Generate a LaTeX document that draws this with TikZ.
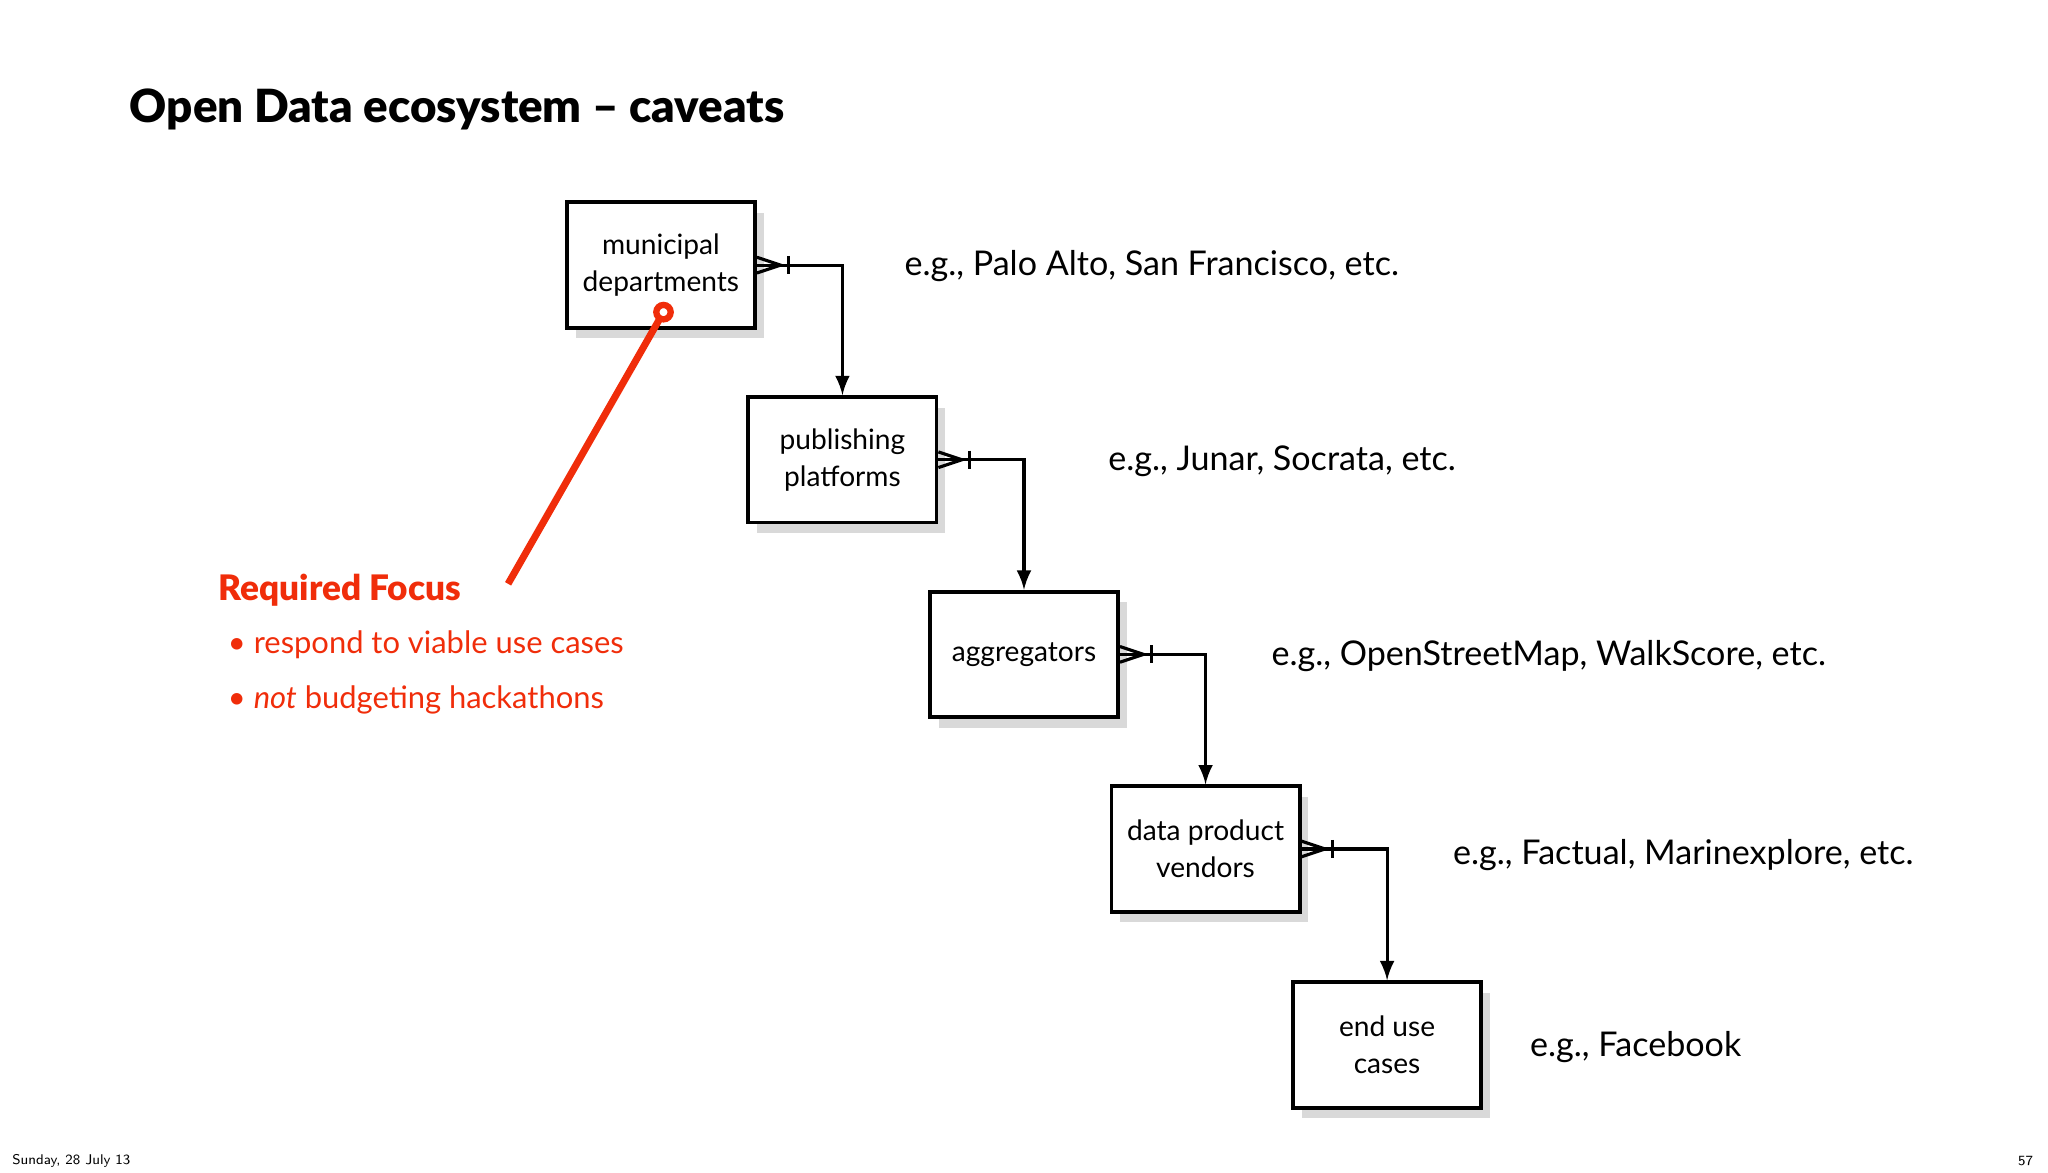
\documentclass[tikz,border=0pt]{standalone}
\usepackage{fontspec}
\setmainfont{Lato}
\newfontfamily\blackfont{Lato Black}
\usetikzlibrary{shadows}
\definecolor{rf}{RGB}{240,45,10}
\begin{document}
\begin{tikzpicture}[x=0.013061cm,y=-0.013061cm,
  ent/.style={draw,line width=1.1pt,fill=white,minimum width=144*0.013061cm,minimum height=96*0.013061cm,align=center,font=\fontsize{8}{10.5}\selectfont,drop shadow={shadow xshift=2.5pt,shadow yshift=-3pt,opacity=0.3}},
  eg/.style={anchor=west,font=\fontsize{9.7}{12}\selectfont},
  conn/.style={line width=0.9pt,-latex}]
\useasboundingbox (0,0) rectangle (1568,898);
\node[anchor=west,font=\fontsize{13}{15}\selectfont\blackfont] (t) at (90,84) {Open Data ecosystem – caveats};
\node[ent] (b1) at (506,203) {municipal\\departments};
\node[ent] (b2) at (645,352) {publishing\\platforms};
\node[ent] (b3) at (784,501) {aggregators};
\node[ent] (b4) at (923,650) {data product\\vendors};
\node[ent] (b5) at (1062,800) {end use\\cases};
\node[eg] (e1) at (683,204) {e.g., Palo Alto, San Francisco, etc.};
\node[eg] (e2) at (839,353) {e.g., Junar, Socrata, etc.};
\node[eg] (e3) at (964,502) {e.g., OpenStreetMap, WalkScore, etc.};
\node[eg] (e4) at (1103,655) {e.g., Factual, Marinexplore, etc.};
\node[eg] (e5) at (1162,802) {e.g., Facebook};
\foreach \a/\b in {b1/b2,b2/b3,b3/b4,b4/b5}{
  \draw[conn] (\a.east) -| (\b.north);
  \draw[line width=0.9pt] ([shift={(0,-6)}]\a.east) -- ([shift={(18,0)}]\a.east) -- ([shift={(0,6)}]\a.east);
  \draw[line width=0.9pt] ([shift={(24,-7)}]\a.east) -- ([shift={(24,7)}]\a.east);
}
\coordinate (c) at (508,239);
\coordinate (r) at (389,447);
\draw[rf,line width=2pt] (c) -- (r);
\draw[rf,line width=1.8pt,fill=white] (c) circle[radius=5.5];
\node[anchor=west,rf,font=\fontsize{10}{12}\selectfont\blackfont] (rq) at (158,452) {Required Focus};
\node[anchor=west,rf,font=\fontsize{8.8}{11}\selectfont] (l1) at (165,494) {• respond to viable use cases};
\node[anchor=west,rf,font=\fontsize{8.8}{11}\selectfont] (l2) at (165,536) {• \textit{not} budgeting hackathons};
\node[anchor=west,font=\fontsize{4}{5}\selectfont\sffamily] (d) at (0,889) {Sunday, 28 July 13};
\node[anchor=east,font=\fontsize{4}{5}\selectfont\sffamily] (p) at (1566,889) {57};
\end{tikzpicture}
\end{document}
